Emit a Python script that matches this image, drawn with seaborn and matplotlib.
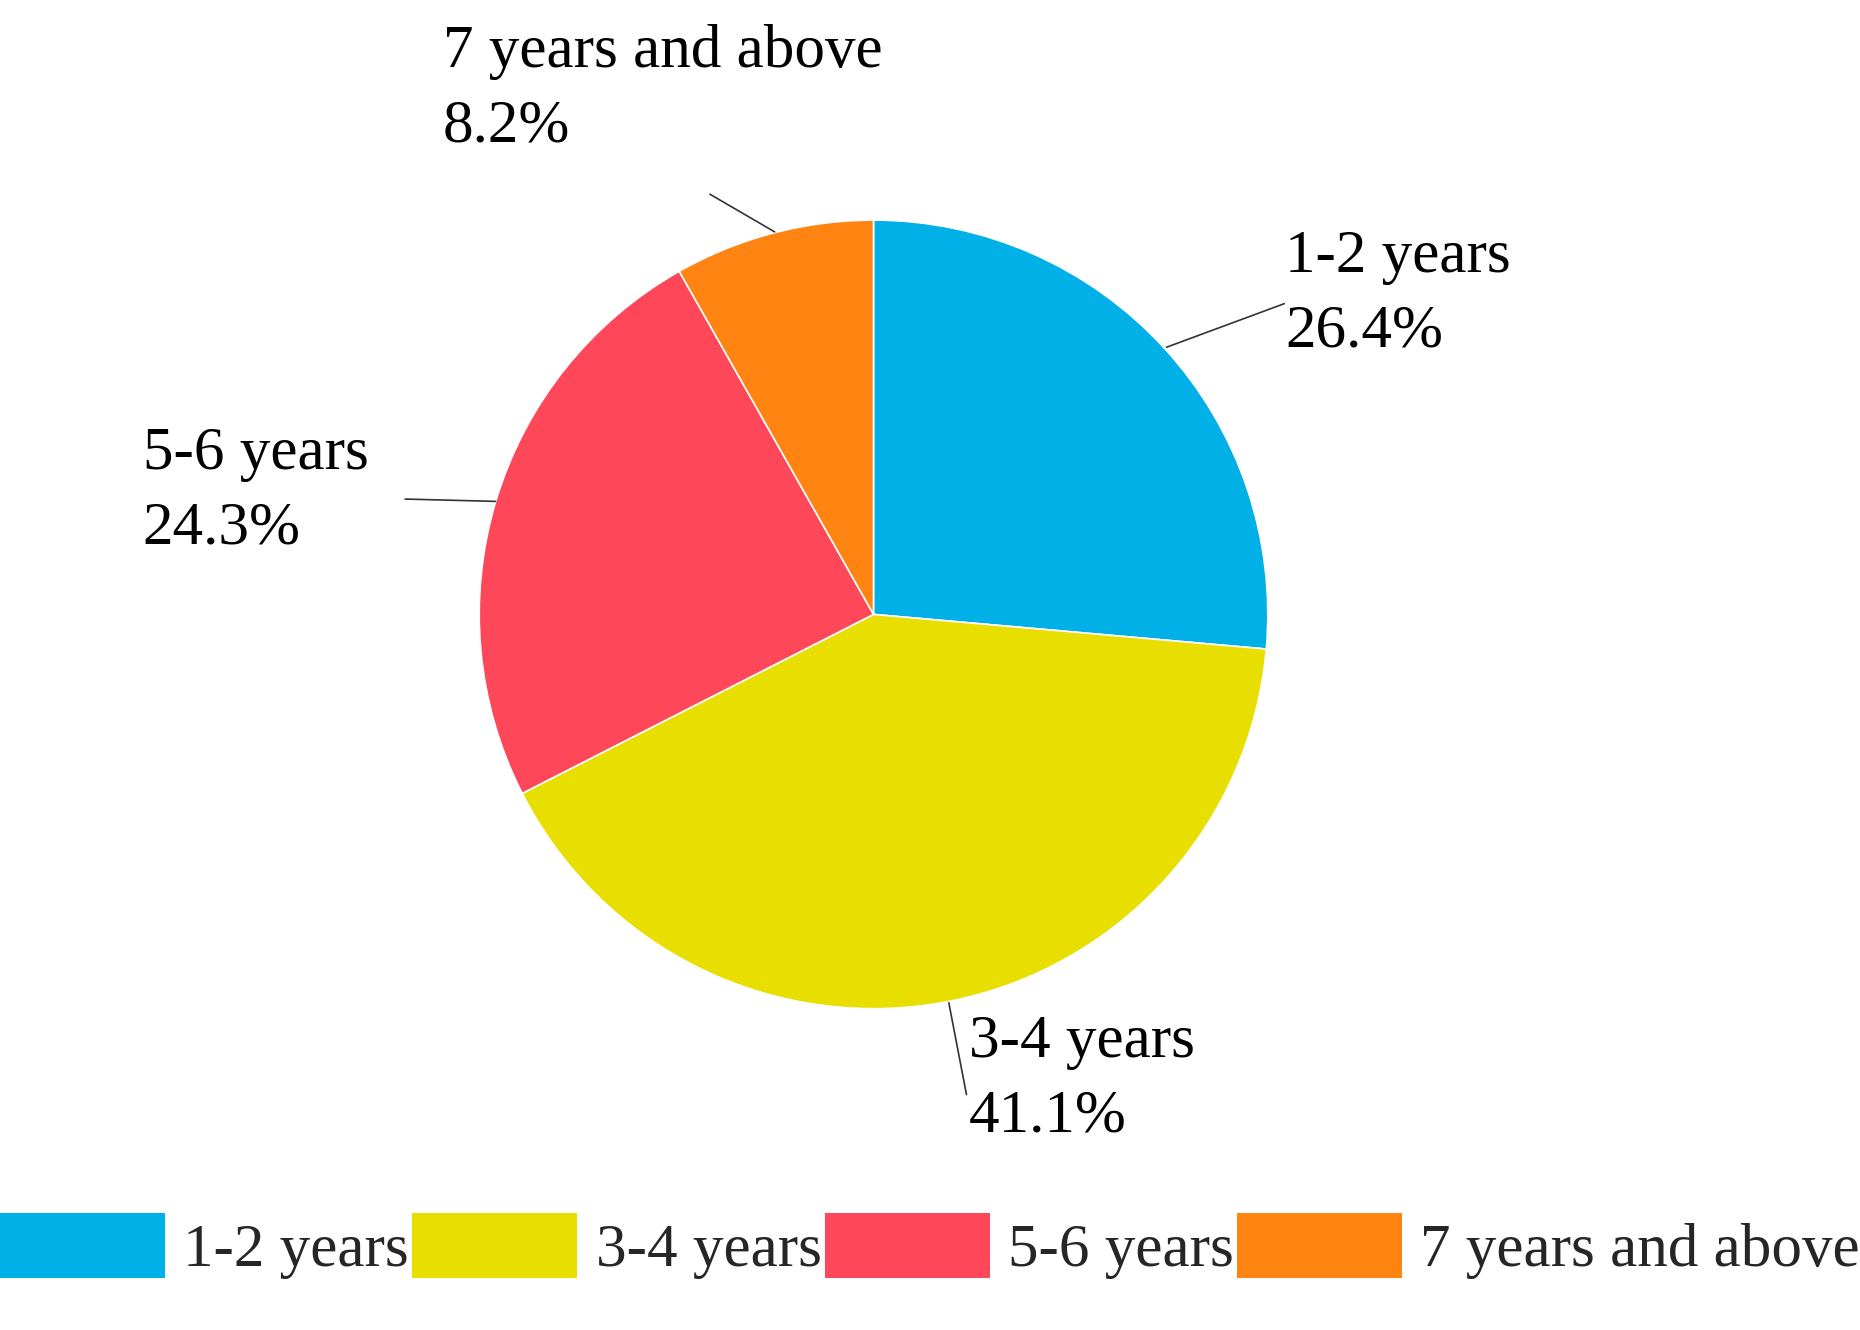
import matplotlib
matplotlib.use("Agg")
import matplotlib.pyplot as plt
import seaborn as sns
from matplotlib.patches import Patch

# Data
categories = ['1-2 years', '3-4 years', '5-6 years', '7 years and above']
shares = [26.4, 41.1, 24.3, 8.2]
colors = ['#00B0E6', '#E8DF00', '#FF475A', '#FF8411']

sns.set_theme(style="white")
plt.rcParams['font.family'] = ['Liberation Serif', 'DejaVu Serif']

W, H = 1568, 1130
fig = plt.figure(figsize=(18.6, 13.3), dpi=100)
ax = fig.add_axes([0, 0, 1, 1])
ax.set_xlim(0, W)
ax.set_ylim(0, H)
ax.set_aspect('equal')
ax.axis('off')

ax.pie(shares, colors=colors, startangle=90, counterclock=False,
       center=(736, H - 522), radius=335,
       wedgeprops=dict(edgecolor='white', linewidth=1.2))
ax.set_xlim(0, W)
ax.set_ylim(0, H)

fs = 44
# label text positions (top-left) and leader lines
labels = [
    (1086, 195, (985, 295), (1085, 258)),
    (817, 862, (800, 852), (815, 930)),
    (115, 362, (415, 426), (338, 424)),
    (370, 20, (652, 197), (597, 165)),
]
for (name, val), (tx, ty, p0, p1) in zip(zip(categories, shares), labels):
    ax.text(tx, H - ty, f"{name}\n{val}%", fontsize=fs, va='top', ha='left',
            linespacing=1.45, color='black')
    ax.plot([p0[0], p1[0]], [H - p0[1], H - p1[1]], color='#333333', lw=1.2)

handles = [Patch(facecolor=c, edgecolor='none') for c in colors]
ax.legend(handles, categories, loc='lower center', bbox_to_anchor=(0.5, 0.02),
          ncol=4, frameon=False, fontsize=fs, handlelength=2.7, handleheight=1.25,
          handletextpad=0.3, columnspacing=0.05, borderaxespad=0)

fig.savefig('out.png', dpi=100)
